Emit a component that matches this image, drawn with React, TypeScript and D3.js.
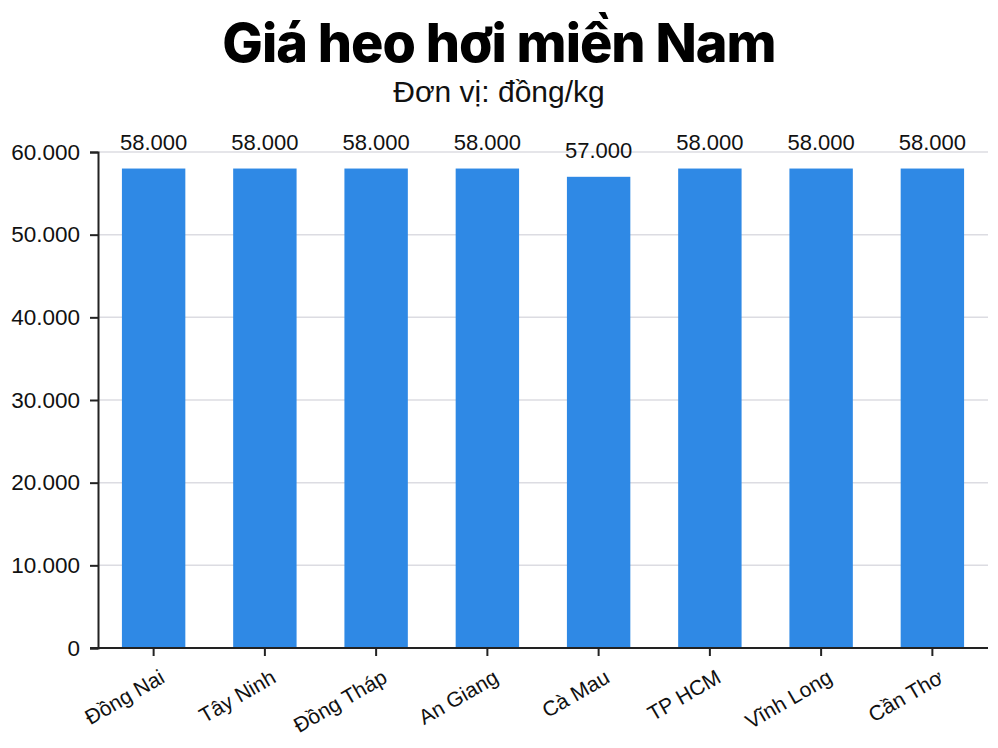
import * as d3 from 'd3';
import React, { useEffect, useRef } from 'react';

const provinces = [
  'Đồng Nai',
  'Tây Ninh',
  'Đồng Tháp',
  'An Giang',
  'Cà Mau',
  'TP HCM',
  'Vĩnh Long',
  'Cần Thơ',
];
const prices = [58000, 58000, 58000, 58000, 57000, 58000, 58000, 58000];
const yTicks = [0, 10000, 20000, 30000, 40000, 50000, 60000];

const title = 'Giá heo hơi miền Nam';
const subtitle = 'Đơn vị: đồng/kg';

const width = 998;
const height = 748;
const margin = { top: 152, right: 10, bottom: 100, left: 98 };

// 58000 -> "58.000"
const fmt = (v: number) => d3.format(',')(v).replace(/,/g, '.');

const BarChart = () => {
  const svgRef = useRef(null);

  const renderSvg = () => {
    const chartWidth = width - margin.left - margin.right;
    const chartHeight = height - margin.top - margin.bottom;

    const svg = d3.select(svgRef.current);
    svg.selectAll('*').remove();

    const xScale = d3
      .scaleBand()
      .domain(provinces)
      .range([0, chartWidth])
      .paddingInner(0.43)
      .paddingOuter(0.215);
    const yScale = d3.scaleLinear().domain([0, 60000]).range([chartHeight, 0]);

    svg
      .append('text')
      .attr('x', width / 2)
      .attr('y', 62)
      .attr('text-anchor', 'middle')
      .style('font-family', 'Inter, "Noto Sans", sans-serif')
      .style('font-weight', '800')
      .style('font-size', '54px')
      .style('letter-spacing', '-1px')
      .style('fill', '#000')
      .text(title);

    svg
      .append('text')
      .attr('x', width / 2)
      .attr('y', 102)
      .attr('text-anchor', 'middle')
      .style('font-family', '"Liberation Sans", Arial, sans-serif')
      .style('font-size', '30px')
      .style('fill', '#111')
      .text(subtitle);

    const g = svg
      .append('g')
      .attr('transform', `translate(${margin.left},${margin.top})`);

    // gridlines
    g.append('g')
      .selectAll('line')
      .data(yTicks.filter((t) => t > 0))
      .enter()
      .append('line')
      .attr('x1', 0)
      .attr('x2', chartWidth)
      .attr('y1', (d) => yScale(d))
      .attr('y2', (d) => yScale(d))
      .style('stroke', '#dcdce2')
      .style('stroke-width', 1.5);

    g.append('g')
      .selectAll('rect')
      .data(prices)
      .enter()
      .append('rect')
      .attr('x', (d, i) => xScale(provinces[i]))
      .attr('y', (d) => yScale(d))
      .attr('width', xScale.bandwidth())
      .attr('height', (d) => chartHeight - yScale(d))
      .style('fill', '#2f89e5');

    g.append('g')
      .selectAll('text')
      .data(prices)
      .enter()
      .append('text')
      .attr('x', (d, i) => xScale(provinces[i]) + xScale.bandwidth() / 2)
      .attr('y', (d) => yScale(d) - 19)
      .attr('text-anchor', 'middle')
      .style('font-family', '"Liberation Sans", Arial, sans-serif')
      .style('font-size', '22px')
      .style('fill', '#111')
      .text((d) => fmt(d));

    const yAxis = g
      .append('g')
      .call(
        d3
          .axisLeft(yScale)
          .tickValues(yTicks)
          .tickSize(8)
          .tickPadding(10)
          .tickFormat((d) => fmt(d as number))
      );
    yAxis.select('.domain').attr('stroke', '#222').attr('stroke-width', 2);
    yAxis.selectAll('.tick line').attr('stroke', '#222').attr('stroke-width', 2);
    yAxis
      .selectAll('.tick text')
      .style('font-family', '"Liberation Sans", Arial, sans-serif')
      .style('font-size', '22.5px')
      .style('fill', '#111');

    const xAxis = g
      .append('g')
      .attr('transform', `translate(0,${chartHeight})`)
      .call(d3.axisBottom(xScale).tickSize(8).tickSizeOuter(0));
    xAxis
      .select('.domain')
      .attr('stroke', '#222')
      .attr('stroke-width', 2)
      .attr('d', `M-8,0H${chartWidth}`);
    xAxis.selectAll('.tick line').attr('stroke', '#222').attr('stroke-width', 2);
    xAxis
      .selectAll('.tick text')
      .attr('text-anchor', 'end')
      .attr('dy', '0')
      .attr('transform', 'translate(7,24) rotate(-30)')
      .style('font-family', '"Liberation Sans", Arial, sans-serif')
      .style('font-size', '21px')
      .style('fill', '#111');
  };

  useEffect(() => {
    renderSvg();
  }, []);

  return (
    <svg
      ref={svgRef}
      width={width}
      height={height}
      style={{ position: 'absolute', left: 0, top: 0, background: '#fff' }}
    />
  );
};

export default BarChart;
